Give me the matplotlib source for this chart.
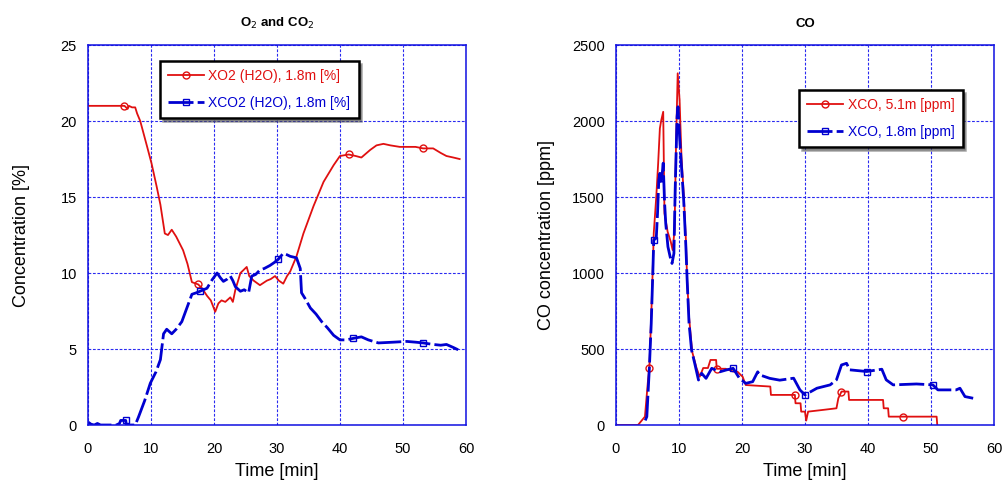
"""Gas concentrations during the fire test: O2/CO2 and CO."""

import matplotlib

matplotlib.use("Agg")

import matplotlib.pyplot as plt
import numpy as np

plt.rcParams["font.family"] = ["Liberation Sans", "DejaVu Sans"]

# O2 / CO2 at 1.8 m [%]
o2_time = [0, 5.8, 6.3, 6.5, 7.0, 7.5, 7.8, 8.3, 9.4, 10.1,
           10.9, 11.5, 12.2, 12.7, 13.3, 14.0, 15.1, 15.8, 16.5, 17.5,
           18.1, 18.9, 19.5, 20.2, 20.7, 21.2, 21.8, 22.6, 23.0, 23.4,
           24.2, 24.7, 25.2, 25.6, 26.3, 27.3, 28.4, 29.0, 29.7, 30.3,
           31.0, 31.6, 32.1, 33.1, 34.2, 35.8, 37.4, 39.0, 40.0, 41.4,
           42.5, 43.4, 44.8, 45.8, 46.9, 48.0, 49.5, 51.0, 52.0, 53.2,
           54.8, 56.0, 56.9, 58.0, 59.0]
o2_value = [21.0, 21.0, 20.8, 21.0, 20.9, 20.9, 20.5, 20.0, 18.3, 17.2,
            15.7, 14.5, 12.6, 12.5, 12.85, 12.4, 11.5, 10.6, 9.4, 9.25,
            9.0, 8.5, 8.2, 7.45, 8.0, 8.2, 8.1, 8.4, 8.1, 8.9,
            10.0, 10.2, 10.4, 9.8, 9.5, 9.2, 9.5, 9.6, 9.8, 9.5,
            9.3, 9.8, 10.1, 11.1, 12.6, 14.4, 16.0, 17.1, 17.7, 17.8,
            17.7, 17.6, 18.1, 18.4, 18.5, 18.4, 18.3, 18.3, 18.3, 18.2,
            18.2, 17.9, 17.7, 17.6, 17.5]
o2_marks = [5.8, 17.5, 41.4, 53.2]

co2_time = [0, 0.5, 1.0, 1.5, 2.0, 3.0, 4.5, 5.0, 5.2, 6.0,
            6.1, 6.5, 7.5, 8.0, 9.0, 9.9, 10.8, 11.5, 12.0, 12.5,
            13.3, 14.0, 14.9, 15.7, 16.5, 17.2, 17.8, 18.9, 19.7, 20.5,
            21.0, 21.5, 22.1, 22.6, 23.0, 23.4, 24.2, 24.8, 25.5, 26.0,
            26.6, 27.3, 28.0, 28.9, 29.6, 30.2, 31.0, 31.6, 32.1, 33.1,
            33.7, 33.9, 34.5, 35.3, 36.2, 37.1, 38.0, 39.0, 40.0, 41.0,
            42.1, 43.4, 44.5, 46.1, 48.5, 50.6, 52.0, 53.2, 54.8, 56.0,
            56.9, 58.0, 59.0]
co2_value = [0.2, 0.05, 0.0, 0.1, 0.0, 0.0, 0.0, 0.1, 0.3, 0.3,
             0.0, 0.0, 0.0, 0.5, 1.6, 2.75, 3.5, 4.3, 6.0, 6.3,
             6.0, 6.3, 6.8, 7.7, 8.6, 8.7, 8.8, 9.0, 9.55, 10.0,
             9.7, 9.45, 9.6, 9.8, 9.5, 9.1, 8.8, 8.9, 8.7, 9.8,
             9.9, 10.2, 10.3, 10.5, 10.7, 10.9, 11.3, 11.2, 11.1, 11.0,
             10.3, 8.7, 8.3, 7.7, 7.3, 6.8, 6.4, 5.9, 5.6, 5.6,
             5.7, 5.8, 5.6, 5.4, 5.45, 5.5, 5.45, 5.4, 5.3, 5.25,
             5.3, 5.1, 4.9]
co2_marks = [5.7, 18.3, 30.5, 42.1, 53.2]

# CO [ppm]
co51_time = [0, 3.5, 4.6, 5.1, 5.3, 5.65, 5.9, 6.0, 6.4, 6.7,
             6.97, 7.2, 7.5, 7.7, 8.2, 8.7, 9.0, 9.3, 9.55, 9.8,
             10.1, 10.4, 10.75, 11.1, 11.3, 11.6, 12.1, 12.8, 13.3, 13.85,
             14.6, 15.0, 15.9, 16.0, 17.4, 18.6, 19.3, 20.1, 20.6, 24.5,
             24.6, 28.4, 28.5, 29.3, 29.4, 30.0, 30.2, 30.5, 33.0, 35.0,
             35.3, 35.8, 36.9, 37.0, 42.4, 42.5, 43.2, 43.3, 45.6, 50.9,
             51.0]
co51_value = [0, 0, 55, 300, 373, 778, 1107, 1263, 1502, 1723,
              1952, 2007, 2061, 1393, 1272, 1206, 1151, 1283, 1875, 2314,
              2138, 1765, 1524, 1217, 954, 712, 482, 373, 318, 375,
              375, 428, 428, 370, 370, 352, 350, 318, 263, 253,
              198, 198, 143, 143, 88, 88, 29, 88, 100, 110,
              176, 220, 220, 165, 165, 110, 110, 55, 55, 55,
              0]
co51_marks = [5.3, 16.0, 27.0, 35.8, 45.6]

co18_time = [4.65, 4.9, 5.3, 5.6, 5.85, 6.0, 6.4, 6.6, 6.8, 6.97,
             7.2, 7.5, 7.7, 7.9, 8.25, 8.6, 8.9, 9.2, 9.4, 9.7,
             9.85, 10.1, 10.4, 10.75, 11.1, 11.3, 11.6, 12.0, 12.5, 13.1,
             13.6, 14.3, 15.2, 16.5, 17.5, 18.6, 19.6, 20.6, 21.7, 22.5,
             22.8, 24.4, 26.0, 28.2, 29.2, 30.0, 31.9, 34.0, 35.0, 35.8,
             36.6, 37.1, 39.8, 42.2, 42.9, 44.0, 47.7, 50.3, 51.1, 54.0,
             54.6, 55.4, 56.7]
co18_value = [30, 55, 373, 669, 998, 1217, 1230, 1393, 1612, 1656,
              1590, 1723, 1480, 1327, 1173, 1107, 1063, 1129, 1546, 2028,
              2094, 1897, 1700, 1480, 1173, 954, 669, 493, 406, 296,
              340, 307, 373, 350, 362, 373, 307, 274, 285, 350,
              330, 307, 295, 308, 231, 198, 242, 264, 297, 395,
              406, 363, 352, 367, 297, 264, 270, 264, 231, 231,
              242, 187, 176]
co18_marks = [6.1, 18.1, 29.7, 39.8, 50.6]

RED = "#e01010"
BLUE = "#0000d0"


def nearest(times, marks):
    times = np.asarray(times)
    return [int(np.argmin(np.abs(times - m))) for m in marks]


def style_axis(axis, ymax, ystep):
    axis.set_xlim(0, 60)
    axis.set_ylim(0, ymax)
    axis.set_xticks(range(0, 61, 10))
    axis.set_yticks(np.arange(0, ymax + 1, ystep))
    axis.tick_params(length=0, labelsize=10.5)
    axis.tick_params(axis="x", pad=12)
    axis.tick_params(axis="y", pad=8)
    axis.grid(color="#2a2af0", linestyle=(0, (2.5, 1.5)), linewidth=0.8)
    for spine in axis.spines.values():
        spine.set_color("#1010e0")
        spine.set_linewidth(1.1)
    axis.set_xlabel("Time [min]", fontsize=13, labelpad=5)


def add_legend(axis, anchor):
    legend = axis.legend(loc="upper left", bbox_to_anchor=anchor,
                         borderaxespad=0, fontsize=10, labelcolor="linecolor",
                         fancybox=False, shadow=True, edgecolor="black",
                         handlelength=2.6, handletextpad=0.3, borderpad=0.6,
                         labelspacing=0.9)
    legend.get_frame().set_linewidth(1.8)
    return legend


fig = plt.figure(figsize=(10.04, 4.84), dpi=100)
ax1 = fig.add_axes([0.0876, 0.1219, 0.3765, 0.785])
ax2 = fig.add_axes([0.6135, 0.1219, 0.3765, 0.785])

ax1.plot(o2_time, o2_value, color=RED, linewidth=1.3, marker="o", markersize=5,
         markerfacecolor="none", markevery=nearest(o2_time, o2_marks),
         label="XO2 (H2O), 1.8m [%]")
ax1.plot(co2_time, co2_value, color=BLUE, linewidth=2.0, dashes=(9, 1.5),
         marker="s", markersize=4.5, markerfacecolor="none", markeredgewidth=1,
         markevery=nearest(co2_time, co2_marks), label="XCO2 (H2O), 1.8m [%]")
style_axis(ax1, 25, 5)
ax1.set_ylabel("Concentration [%]", fontsize=13, labelpad=22)
ax1.set_title("O$_2$ and CO$_2$", fontsize=9.5, fontweight="bold", pad=13)
add_legend(ax1, (0.19, 0.958))

ax2.plot(co51_time, co51_value, color=RED, linewidth=1.3, marker="o", markersize=5,
         markerfacecolor="none", markevery=nearest(co51_time, co51_marks),
         label="XCO, 5.1m [ppm]")
ax2.plot(co18_time, co18_value, color=BLUE, linewidth=2.0, dashes=(9, 1.5),
         marker="s", markersize=4.5, markerfacecolor="none", markeredgewidth=1,
         markevery=nearest(co18_time, co18_marks), label="XCO, 1.8m [ppm]")
style_axis(ax2, 2500, 500)
ax2.set_ylabel("CO concentration [ppm]", fontsize=13, labelpad=12)
ax2.set_title("CO", fontsize=9.5, fontweight="bold", pad=13)
add_legend(ax2, (0.484, 0.882))

fig.savefig("out.png", dpi=100)
plt.close(fig)
